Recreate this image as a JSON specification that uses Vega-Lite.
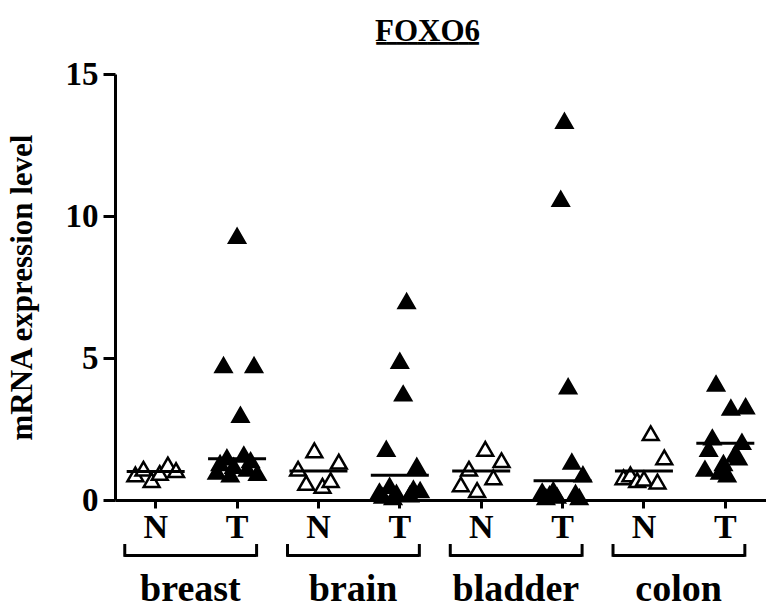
{
  "$schema": "https://vega.github.io/schema/vega-lite/v6.json",
  "width": 651,
  "height": 426,
  "autosize": {"type": "none"},
  "padding": {"left": 115, "top": 74, "right": 0, "bottom": 108},
  "background": "white",
  "title": {"text": "FOXO6", "subtitle": "━━━━━━━━━━", "font": "Liberation Serif", "fontSize": 31, "fontWeight": "bold", "subtitleFont": "DejaVu Sans", "subtitleFontSize": 17, "subtitleColor": "black", "subtitlePadding": -12, "anchor": "middle", "dx": -13, "offset": 5, "color": "black"},
  "config": {
    "view": {"stroke": null},
    "axis": {"domainColor": "black", "domainWidth": 3, "tickColor": "black", "tickWidth": 3, "labelColor": "black", "titleColor": "black", "labelFont": "Liberation Serif", "titleFont": "Liberation Serif", "labelFontWeight": "bold", "titleFontWeight": "bold", "grid": false}
  },
  "datasets": {
    "pts": [
      {"cat": "breast N", "group": "N", "s": 1, "value": 0.9},
      {"cat": "breast N", "group": "N", "s": 2, "value": 1.1},
      {"cat": "breast N", "group": "N", "s": 3, "value": 0.7},
      {"cat": "breast N", "group": "N", "s": 4, "value": 0.95},
      {"cat": "breast N", "group": "N", "s": 5, "value": 1.25},
      {"cat": "breast N", "group": "N", "s": 6, "value": 1.05},
      {"cat": "breast T", "group": "T", "s": 1, "value": 1.0},
      {"cat": "breast T", "group": "T", "s": 2, "value": 1.3},
      {"cat": "breast T", "group": "T", "s": 3, "value": 4.75},
      {"cat": "breast T", "group": "T", "s": 4, "value": 1.5},
      {"cat": "breast T", "group": "T", "s": 5, "value": 0.9},
      {"cat": "breast T", "group": "T", "s": 6, "value": 1.2},
      {"cat": "breast T", "group": "T", "s": 7, "value": 9.3},
      {"cat": "breast T", "group": "T", "s": 8, "value": 3.0},
      {"cat": "breast T", "group": "T", "s": 9, "value": 1.6},
      {"cat": "breast T", "group": "T", "s": 10, "value": 1.1},
      {"cat": "breast T", "group": "T", "s": 11, "value": 1.4},
      {"cat": "breast T", "group": "T", "s": 12, "value": 4.75},
      {"cat": "breast T", "group": "T", "s": 13, "value": 0.95},
      {"cat": "brain N", "group": "N", "s": 1, "value": 1.1},
      {"cat": "brain N", "group": "N", "s": 2, "value": 0.6},
      {"cat": "brain N", "group": "N", "s": 3, "value": 1.75},
      {"cat": "brain N", "group": "N", "s": 4, "value": 0.5},
      {"cat": "brain N", "group": "N", "s": 5, "value": 0.7},
      {"cat": "brain N", "group": "N", "s": 6, "value": 1.35},
      {"cat": "brain T", "group": "T", "s": 1, "value": 0.3},
      {"cat": "brain T", "group": "T", "s": 2, "value": 0.15},
      {"cat": "brain T", "group": "T", "s": 3, "value": 1.8},
      {"cat": "brain T", "group": "T", "s": 4, "value": 0.5},
      {"cat": "brain T", "group": "T", "s": 5, "value": 0.1},
      {"cat": "brain T", "group": "T", "s": 6, "value": 0.25},
      {"cat": "brain T", "group": "T", "s": 7, "value": 4.9},
      {"cat": "brain T", "group": "T", "s": 8, "value": 3.75},
      {"cat": "brain T", "group": "T", "s": 9, "value": 7.0},
      {"cat": "brain T", "group": "T", "s": 10, "value": 0.2},
      {"cat": "brain T", "group": "T", "s": 11, "value": 0.4},
      {"cat": "brain T", "group": "T", "s": 12, "value": 1.2},
      {"cat": "brain T", "group": "T", "s": 13, "value": 0.35},
      {"cat": "bladder N", "group": "N", "s": 1, "value": 0.55},
      {"cat": "bladder N", "group": "N", "s": 2, "value": 1.1},
      {"cat": "bladder N", "group": "N", "s": 3, "value": 0.35},
      {"cat": "bladder N", "group": "N", "s": 4, "value": 1.8},
      {"cat": "bladder N", "group": "N", "s": 5, "value": 0.8},
      {"cat": "bladder N", "group": "N", "s": 6, "value": 1.4},
      {"cat": "bladder T", "group": "T", "s": 1, "value": 0.3},
      {"cat": "bladder T", "group": "T", "s": 2, "value": 0.1},
      {"cat": "bladder T", "group": "T", "s": 3, "value": 0.2},
      {"cat": "bladder T", "group": "T", "s": 4, "value": 0.35},
      {"cat": "bladder T", "group": "T", "s": 5, "value": 0.15},
      {"cat": "bladder T", "group": "T", "s": 6, "value": 10.6},
      {"cat": "bladder T", "group": "T", "s": 7, "value": 13.35},
      {"cat": "bladder T", "group": "T", "s": 8, "value": 4.0},
      {"cat": "bladder T", "group": "T", "s": 9, "value": 1.35},
      {"cat": "bladder T", "group": "T", "s": 10, "value": 0.25},
      {"cat": "bladder T", "group": "T", "s": 11, "value": 0.1},
      {"cat": "bladder T", "group": "T", "s": 12, "value": 0.9},
      {"cat": "colon N", "group": "N", "s": 1, "value": 0.8},
      {"cat": "colon N", "group": "N", "s": 2, "value": 0.9},
      {"cat": "colon N", "group": "N", "s": 3, "value": 0.7},
      {"cat": "colon N", "group": "N", "s": 4, "value": 0.75},
      {"cat": "colon N", "group": "N", "s": 5, "value": 2.35},
      {"cat": "colon N", "group": "N", "s": 6, "value": 0.65},
      {"cat": "colon N", "group": "N", "s": 7, "value": 1.5},
      {"cat": "colon T", "group": "T", "s": 1, "value": 1.1},
      {"cat": "colon T", "group": "T", "s": 2, "value": 1.8},
      {"cat": "colon T", "group": "T", "s": 3, "value": 2.2},
      {"cat": "colon T", "group": "T", "s": 4, "value": 4.1},
      {"cat": "colon T", "group": "T", "s": 5, "value": 1.0},
      {"cat": "colon T", "group": "T", "s": 6, "value": 1.3},
      {"cat": "colon T", "group": "T", "s": 7, "value": 0.9},
      {"cat": "colon T", "group": "T", "s": 8, "value": 3.25},
      {"cat": "colon T", "group": "T", "s": 9, "value": 1.6},
      {"cat": "colon T", "group": "T", "s": 10, "value": 1.5},
      {"cat": "colon T", "group": "T", "s": 11, "value": 2.05},
      {"cat": "colon T", "group": "T", "s": 12, "value": 3.3}
    ],
    "med": [
      {"cat": "breast N", "value": 1.0},
      {"cat": "breast T", "value": 1.45},
      {"cat": "brain N", "value": 1.02},
      {"cat": "brain T", "value": 0.87},
      {"cat": "bladder N", "value": 1.02},
      {"cat": "bladder T", "value": 0.68},
      {"cat": "colon N", "value": 1.02},
      {"cat": "colon T", "value": 2.0}
    ],
    "tis": [
      {"tissue": "breast"},
      {"tissue": "brain"},
      {"tissue": "bladder"},
      {"tissue": "colon"}
    ]
  },
  "layer": [
    {
      "layer": [
        {
          "data": {"name": "pts"},
          "transform": [{"window": [{"op": "percent_rank", "as": "pr"}], "sort": [{"field": "s"}], "groupby": ["cat"]}],
          "mark": {"type": "point", "shape": "triangle-up", "filled": true, "size": 250, "stroke": "black", "strokeWidth": 2.5, "opacity": 1},
          "encoding": {
            "x": {"field": "cat", "type": "nominal", "sort": ["breast N", "breast T", "brain N", "brain T", "bladder N", "bladder T", "colon N", "colon T"],
                  "scale": {"type": "band", "paddingInner": 0, "paddingOuter": 0},
                  "axis": {"title": null, "labelExpr": "slice(datum.label, -1)", "labelAngle": 0, "labelFontSize": 34, "tickSize": 8, "labelPadding": 2}},
            "xOffset": {"field": "pr", "type": "quantitative", "scale": {"domain": [-0.5, 1.5]}},
            "y": {"field": "value", "type": "quantitative", "scale": {"domain": [0, 15], "nice": false},
                  "axis": {"title": "mRNA expression level", "values": [0, 5, 10, 15], "labelFontSize": 33, "titleFontSize": 31, "tickSize": 12, "labelPadding": 5, "titlePadding": 27}},
            "fill": {"field": "group", "type": "nominal", "scale": {"domain": ["N", "T"], "range": ["white", "black"]}, "legend": null}
          }
        },
        {
          "data": {"name": "med"},
          "mark": {"type": "tick", "size": 58, "thickness": 3, "color": "black", "opacity": 1},
          "encoding": {
            "x": {"field": "cat", "type": "nominal", "sort": ["breast N", "breast T", "brain N", "brain T", "bladder N", "bladder T", "colon N", "colon T"]},
            "y": {"field": "value", "type": "quantitative"}
          }
        }
      ]
    },
    {
      "data": {"name": "tis"},
      "layer": [
        {
          "mark": {"type": "tick", "size": 132, "thickness": 3, "color": "black", "opacity": 1, "xOffset": -6},
          "encoding": {
            "x": {"field": "tissue", "type": "nominal", "sort": null, "scale": {"type": "band", "paddingInner": 0, "paddingOuter": 0},
                  "axis": {"orient": "bottom", "title": null, "domain": false, "ticks": false, "tickSize": 0, "labelPadding": 70, "labelFontSize": 38, "labelAngle": 0, "labelOffset": -6}},
            "y": {"datum": -1.95}
          }
        },
        {
          "mark": {"type": "rule", "strokeWidth": 3, "color": "black"},
          "encoding": {
            "x": {"field": "tissue", "type": "nominal", "sort": null, "bandPosition": 0.06,
                  "axis": {"orient": "bottom", "title": null, "domain": false, "ticks": false, "tickSize": 0, "labelPadding": 70, "labelFontSize": 38, "labelAngle": 0, "labelOffset": -6}},
            "y": {"datum": -2.0},
            "y2": {"datum": -1.55}
          }
        },
        {
          "mark": {"type": "rule", "strokeWidth": 3, "color": "black"},
          "encoding": {
            "x": {"field": "tissue", "type": "nominal", "sort": null, "bandPosition": 0.87,
                  "axis": {"orient": "bottom", "title": null, "domain": false, "ticks": false, "tickSize": 0, "labelPadding": 70, "labelFontSize": 38, "labelAngle": 0, "labelOffset": -6}},
            "y": {"datum": -2.0},
            "y2": {"datum": -1.55}
          }
        }
      ]
    }
  ],
  "resolve": {"scale": {"x": "independent"}, "axis": {"x": "independent"}}
}
